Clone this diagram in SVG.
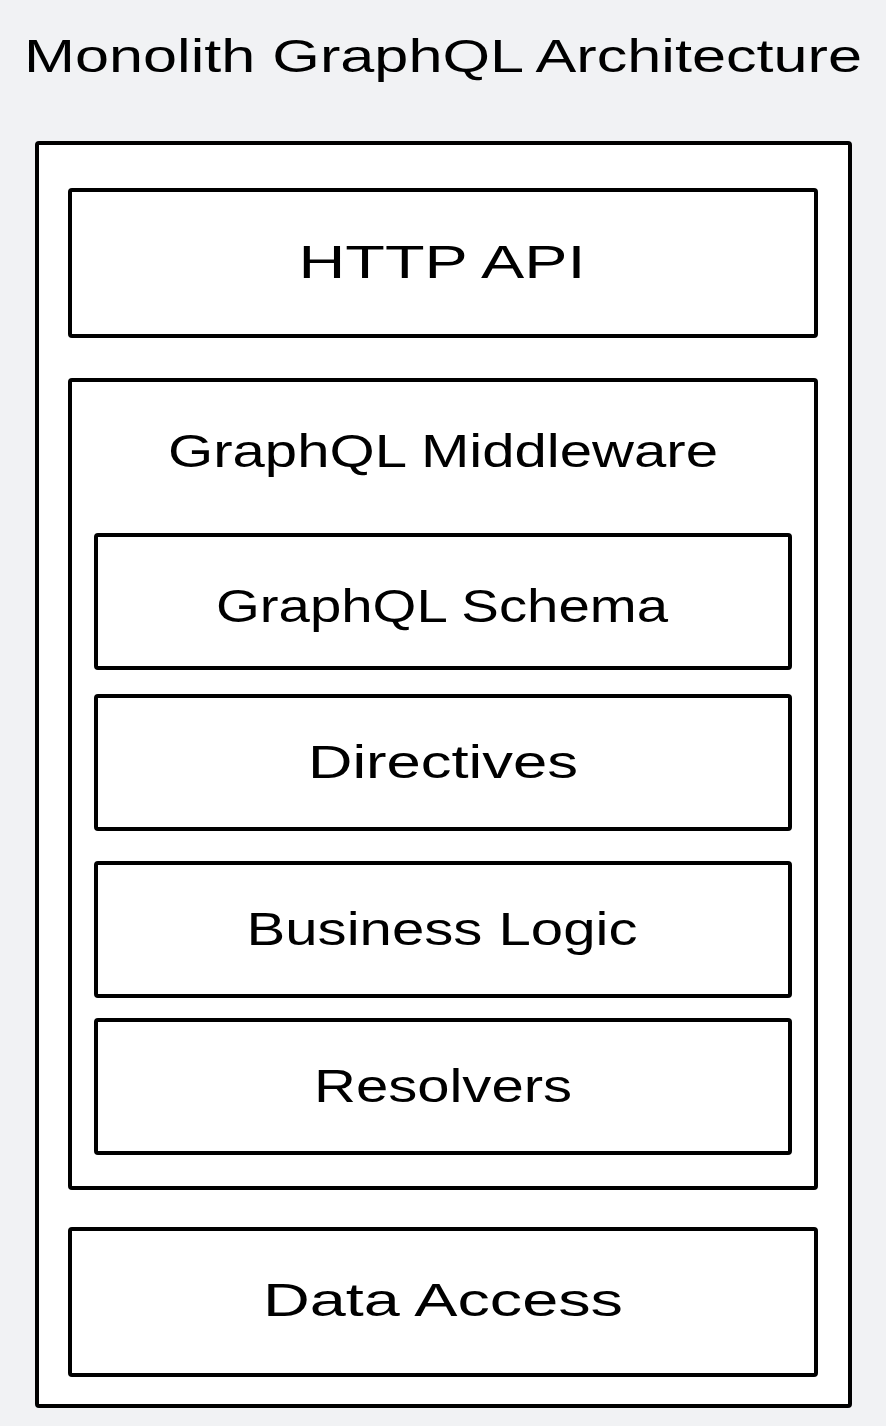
<svg xmlns="http://www.w3.org/2000/svg" width="886" height="1426" viewBox="0 0 886 1426">
<style>
.box{fill:#ffffff;stroke:#000000;stroke-width:4}
.t{font-family:"Liberation Sans","DejaVu Sans",sans-serif;font-size:46px;fill:#000;text-anchor:middle}
</style>
<rect x="0" y="0" width="886" height="1426" fill="#f1f2f4"/>
<text class="t" x="443" y="72" textLength="838" lengthAdjust="spacingAndGlyphs">Monolith GraphQL Architecture</text>
<g id="monolith"><rect class="box" x="37" y="143" width="813" height="1263" rx="2"/></g>
<g id="http-api"><rect class="box" x="70" y="190" width="746" height="146" rx="2"/><text class="t" x="442" y="278" textLength="287" lengthAdjust="spacingAndGlyphs">HTTP API</text></g>
<g id="graphql-middleware"><rect class="box" x="70" y="380" width="746" height="808" rx="2"/><text class="t" x="443" y="467" textLength="550" lengthAdjust="spacingAndGlyphs">GraphQL Middleware</text></g>
<g id="graphql-schema"><rect class="box" x="96" y="535" width="694" height="133" rx="2"/><text class="t" x="442" y="622" textLength="452" lengthAdjust="spacingAndGlyphs">GraphQL Schema</text></g>
<g id="directives"><rect class="box" x="96" y="696" width="694" height="133" rx="2"/><text class="t" x="443" y="778" textLength="270" lengthAdjust="spacingAndGlyphs">Directives</text></g>
<g id="business-logic"><rect class="box" x="96" y="863" width="694" height="133" rx="2"/><text class="t" x="442" y="945" textLength="391" lengthAdjust="spacingAndGlyphs">Business Logic</text></g>
<g id="resolvers"><rect class="box" x="96" y="1020" width="694" height="133" rx="2"/><text class="t" x="443" y="1102" textLength="258" lengthAdjust="spacingAndGlyphs">Resolvers</text></g>
<g id="data-access"><rect class="box" x="70" y="1229" width="746" height="146" rx="2"/><text class="t" x="443" y="1316" textLength="360" lengthAdjust="spacingAndGlyphs">Data Access</text></g>
<g id="connectors"></g>
</svg>
